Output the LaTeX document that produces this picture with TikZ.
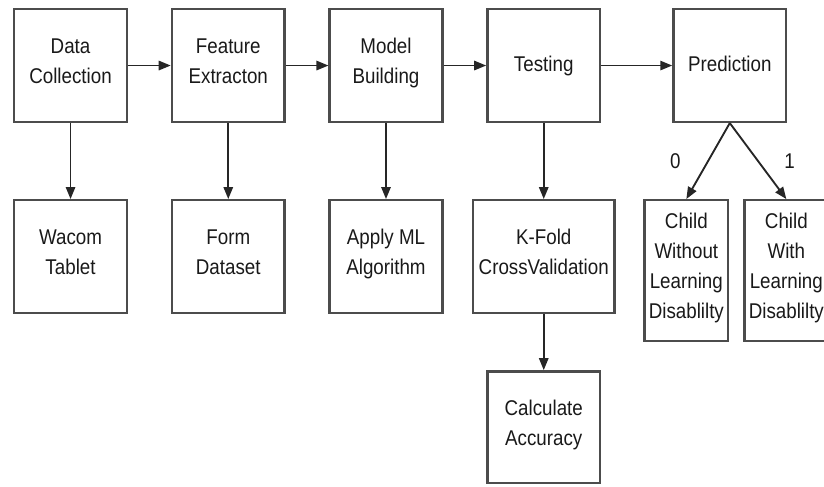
\documentclass[tikz,border=0pt]{standalone}
\usepackage{fontspec}
\setmainfont{Liberation Sans}[FakeStretch=0.88]
\usepackage{tikz}
\usetikzlibrary{positioning,arrows.meta}

\begin{document}
\begin{tikzpicture}[
        block/.style={rectangle, draw=black!70, line width=1.8pt, minimum width=84.5pt, minimum height=84.5pt, inner sep=2pt, align=center, text=black!90, font=\fontsize{16}{22.5}\selectfont, execute at begin node=\strut, execute at end node=\strut},
        wideblock/.style={block, minimum width=106.2pt},
        childblock/.style={block, minimum width=62.7pt, minimum height=105.5pt},
        arrow/.style={-{Triangle[length=9pt,width=7pt]}, line width=1.4pt, black!85},
        branch/.style={inner sep=0pt, text=black!90, font=\fontsize{16}{22.5}\selectfont}
    ]
    % Main pipeline
    \node[block] (dc) {Data\\Collection};
    \node[block, right=32pt of dc] (fe) {Feature\\Extracton};
    \node[block, right=32pt of fe] (mb) {Model\\Building};
    \node[block, right=32pt of mb] (te) {Testing};
    \node[block, right=53.25pt of te] (pr) {Prediction};

    % Details of each step
    \node[block, below=57pt of dc] (wt) {Wacom\\Tablet};
    \node[block, below=57pt of fe] (fd) {Form\\Dataset};
    \node[block, below=57pt of mb] (ml) {Apply ML\\Algorithm};
    \node[wideblock, below=57pt of te] (kf) {K-Fold\\CrossValidation};
    \node[block, below=42pt of kf, minimum height=83.7pt] (ca) {Calculate\\Accuracy};

    % Prediction outcomes
    \node[childblock, below=57pt of pr, xshift=-32.6pt] (cwo) {Child\\Without\\Learning\\Disablilty};
    \node[childblock, right=10.5pt of cwo] (cw) {Child\\With\\Learning\\Disablilty};

    \pgfresetboundingbox
    \useasboundingbox ([xshift=-9.75pt, yshift=6pt]dc.north west) rectangle ++(618pt,-364.5pt);

    % Connect everything
    \draw[arrow] (dc) -- (fe);
    \draw[arrow] (fe) -- (mb);
    \draw[arrow] (mb) -- (te);
    \draw[arrow] (te) -- (pr);
    \draw[arrow] (dc) -- (wt);
    \draw[arrow] (fe) -- (fd);
    \draw[arrow] (mb) -- (ml);
    \draw[arrow] (te) -- (kf);
    \draw[arrow] (kf) -- (ca);
    \draw[arrow] (pr.south) -- node[branch, left=20pt] {0} (cwo.north);
    \draw[arrow] (pr.south) -- node[branch, right=19pt] {1} (cw.north);
\end{tikzpicture}
\end{document}
